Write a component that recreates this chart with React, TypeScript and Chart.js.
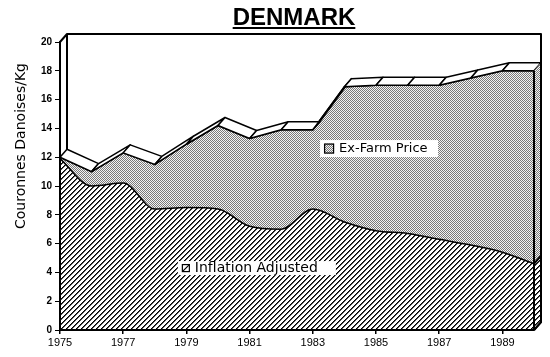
import { useEffect, useRef } from 'react';
import { Chart, registerables } from 'chart.js';

Chart.register(...registerables);

// ---- Data ----
const years = [1975, 1976, 1977, 1978, 1979, 1980, 1981, 1982, 1983, 1984, 1985, 1986, 1987, 1988, 1989, 1990];
const exFarmPrice = [12.0, 11.0, 12.3, 11.5, 12.9, 14.2, 13.3, 13.9, 13.9, 16.9, 17.0, 17.0, 17.0, 17.5, 18.0, 18.0];
const inflationAdjusted = [11.9, 10.0, 10.2, 8.4, 8.5, 8.4, 7.2, 7.0, 8.4, 7.5, 6.9, 6.7, 6.3, 5.9, 5.4, 4.6];
const xTickYears = [1975, 1977, 1979, 1981, 1983, 1985, 1987, 1989];
const seriesLabels = ['Inflation Adjusted', 'Ex-Farm Price'];
const titleText = 'DENMARK';
const yAxisTitle = 'Couronnes Danoises/Kg';

const DX = 7;
const DY = -8;

function makeStipple(): CanvasPattern | string {
  const c = document.createElement('canvas');
  c.width = 2; c.height = 2;
  const g = c.getContext('2d');
  if (!g) return '#c4c4c4';
  g.fillStyle = '#f4f4f4'; g.fillRect(0, 0, 2, 2);
  g.fillStyle = '#7a7a7a'; g.fillRect(0, 0, 1, 1); g.fillRect(1, 1, 1, 1);
  return g.createPattern(c, 'repeat') || '#c4c4c4';
}

function makeHatch(): CanvasPattern | string {
  const s = 5;
  const c = document.createElement('canvas');
  c.width = s; c.height = s;
  const g = c.getContext('2d');
  if (!g) return '#888';
  g.fillStyle = '#ffffff'; g.fillRect(0, 0, s, s);
  for (let x = 0; x < s; x++) {
    for (let y = 0; y < s; y++) {
      const k = (x + y) % s;
      if (k === s - 1) { g.fillStyle = '#000000'; g.fillRect(x, y, 1, 1); }
      else if (k === 0) { g.fillStyle = '#505050'; g.fillRect(x, y, 1, 1); }
    }
  }
  return g.createPattern(c, 'repeat') || '#888';
}

export default function App() {
  const ref = useRef<HTMLCanvasElement | null>(null);

  useEffect(() => {
    const canvas = ref.current;
    if (!canvas) return;
    const stipple = makeStipple();
    const hatch = makeHatch();

    const threeD = {
      id: 'threeD',
      beforeDatasetsDraw(chart: any) {
        const { ctx, chartArea: a } = chart;
        ctx.save();
        ctx.strokeStyle = '#000';
        ctx.lineWidth = 2;
        ctx.lineJoin = 'round';
        ctx.beginPath();
        ctx.moveTo(a.left, a.top);
        ctx.lineTo(a.left + DX, a.top + DY);
        ctx.lineTo(a.right + DX, a.top + DY);
        ctx.lineTo(a.right + DX, a.bottom + DY);
        ctx.lineTo(a.right, a.bottom);
        ctx.moveTo(a.left + DX, a.top + DY);
        ctx.lineTo(a.left + DX, a.bottom + DY);
        ctx.stroke();
        ctx.restore();
      },
      afterDatasetsDraw(chart: any) {
        const { ctx, chartArea: a } = chart;
        const ef = chart.getDatasetMeta(1).data.map((p: any) => ({ x: p.x, y: p.y }));
        const ia = chart.getDatasetMeta(0).data.map((p: any) => ({ x: p.x, y: p.y }));
        ctx.save();
        ctx.strokeStyle = '#000';
        ctx.lineWidth = 1.5;
        ctx.lineJoin = 'round';
        // top ribbon
        for (let i = 0; i < ef.length - 1; i++) {
          const p = ef[i], q = ef[i + 1];
          ctx.beginPath();
          ctx.moveTo(p.x, p.y);
          ctx.lineTo(q.x, q.y);
          ctx.lineTo(q.x + DX, q.y + DY);
          ctx.lineTo(p.x + DX, p.y + DY);
          ctx.closePath();
          ctx.fillStyle = '#fff';
          ctx.fill();
          ctx.stroke();
        }
        // right side face
        const le = ef[ef.length - 1];
        const li = ia[ia.length - 1];
        ctx.beginPath();
        ctx.moveTo(le.x, le.y);
        ctx.lineTo(le.x + DX, le.y + DY);
        ctx.lineTo(li.x + DX, li.y + DY);
        ctx.lineTo(li.x, li.y);
        ctx.closePath();
        ctx.fillStyle = stipple;
        ctx.fill();
        ctx.beginPath();
        ctx.moveTo(li.x, li.y);
        ctx.lineTo(li.x + DX, li.y + DY);
        ctx.lineTo(a.right + DX, a.bottom + DY);
        ctx.lineTo(a.right, a.bottom);
        ctx.closePath();
        ctx.fillStyle = hatch;
        ctx.fill();
        ctx.lineWidth = 2;
        ctx.beginPath();
        ctx.moveTo(le.x, le.y); ctx.lineTo(a.right, a.bottom);
        ctx.moveTo(le.x + DX, le.y + DY); ctx.lineTo(a.right + DX, a.bottom + DY);
        ctx.lineTo(a.right, a.bottom);
        ctx.moveTo(li.x, li.y); ctx.lineTo(li.x + DX, li.y + DY);
        ctx.stroke();
        // front axes lines
        ctx.lineWidth = 2;
        ctx.beginPath();
        ctx.moveTo(a.left, a.top);
        ctx.lineTo(a.left, a.bottom);
        ctx.lineTo(a.right, a.bottom);
        ctx.stroke();
        ctx.restore();
      },
      afterDraw(chart: any) {
        const { ctx, scales } = chart;
        const xs = scales.x, ys = scales.y;
        ctx.save();
        // title
        ctx.fillStyle = '#000';
        ctx.font = 'bold 24px "Liberation Sans", Arial, sans-serif';
        ctx.textAlign = 'center';
        ctx.textBaseline = 'alphabetic';
        const tx = 294;
        ctx.fillText(titleText, tx, 25);
        const tw = ctx.measureText(titleText).width;
        ctx.fillRect(tx - tw / 2, 27, tw, 2);
        // y axis title
        ctx.save();
        ctx.translate(21, 146);
        ctx.rotate(-Math.PI / 2);
        ctx.font = '14px "DejaVu Sans", sans-serif';
        ctx.textAlign = 'center';
        ctx.textBaseline = 'middle';
        ctx.fillText(yAxisTitle, 0, 0);
        ctx.restore();

        // in-plot labels
        const drawLabel = (text: string, vx: number, vy: number, fontPx: number, kind: 'stipple' | 'hatch', boxW: number, boxH: number) => {
          const x0 = xs.getPixelForValue(vx);
          const yc = ys.getPixelForValue(vy);
          ctx.fillStyle = '#fff';
          ctx.fillRect(x0, yc - boxH / 2, boxW, boxH);
          const isz = kind === 'stipple' ? 10 : 8;
          const ix = x0 + 4, iy = yc - isz / 2;
          if (kind === 'stipple') {
            ctx.fillStyle = stipple;
            ctx.fillRect(ix, iy, isz, isz);
          }
          ctx.strokeStyle = '#000';
          ctx.lineWidth = 1.2;
          ctx.strokeRect(ix + 0.5, iy + 0.5, isz - 1, isz - 1);
          if (kind === 'hatch') {
            ctx.beginPath();
            ctx.moveTo(ix + 1, iy + isz - 1);
            ctx.lineTo(ix + isz - 1, iy + 1);
            ctx.stroke();
          }
          ctx.fillStyle = '#000';
          ctx.font = `${fontPx}px "DejaVu Sans", sans-serif`;
          ctx.textAlign = 'left';
          ctx.textBaseline = 'middle';
          ctx.fillText(text, ix + isz + 5, yc + 0.5);
        };
        drawLabel(seriesLabels[1], 1983.23, 12.6, 13, 'stipple', 118, 17);
        drawLabel(seriesLabels[0], 1978.73, 4.3, 14, 'hatch', 158, 14);
        ctx.restore();
      },
    };

    const chart = new Chart(canvas, {
      type: 'line',
      data: {
        labels: years,
        datasets: [
          {
            label: seriesLabels[0],
            data: years.map((y, i) => ({ x: y, y: inflationAdjusted[i] })),
            borderColor: '#000',
            borderWidth: 1.5,
            backgroundColor: hatch as any,
            fill: 'origin',
            pointRadius: 0,
            cubicInterpolationMode: 'monotone',
          },
          {
            label: seriesLabels[1],
            data: years.map((y, i) => ({ x: y, y: exFarmPrice[i] })),
            borderColor: '#000',
            borderWidth: 1.5,
            backgroundColor: stipple as any,
            fill: '-1',
            pointRadius: 0,
            tension: 0,
          },
        ],
      },
      options: {
        responsive: false,
        animation: false,
        devicePixelRatio: 1,
        layout: { padding: { top: 42, right: 16, left: 0, bottom: 0 } },
        plugins: {
          legend: { display: false },
          title: { display: false },
          tooltip: { enabled: false },
        },
        scales: {
          x: {
            type: 'linear',
            min: 1975,
            max: 1990,
            afterBuildTicks: (s: any) => { s.ticks = xTickYears.map((v) => ({ value: v })); },
            afterFit: (s: any) => { s.height = 27; },
            ticks: {
              autoSkip: false,
              maxRotation: 0,
              padding: 2,
              color: '#000',
              font: { family: '"Liberation Sans", Arial, sans-serif', size: 11 },
              callback: (v: any) => String(v),
            },
            grid: { display: true, drawOnChartArea: false, drawTicks: true, tickLength: 4, color: '#000', lineWidth: 1.5 },
            border: { display: true, color: '#000', width: 2 },
          },
          y: {
            min: 0,
            max: 20,
            afterFit: (s: any) => { s.width = 60; },
            ticks: {
              stepSize: 1,
              padding: 3,
              color: '#000',
              font: { family: '"Liberation Sans", Arial, sans-serif', size: 10, weight: 'bold' },
              callback: (v: any) => (Number(v) % 2 === 0 ? String(v) : ''),
            },
            grid: { display: true, drawOnChartArea: false, drawTicks: true, tickLength: 5, color: '#000', lineWidth: 1 },
            border: { display: true, color: '#000', width: 2 },
          },
        },
      },
      plugins: [threeD],
    });

    return () => chart.destroy();
  }, []);

  return (
    <div style={{ position: 'fixed', left: 0, top: 0, width: 550, height: 357, background: '#fff' }}>
      <canvas ref={ref} width={550} height={357} style={{ display: 'block' }} />
    </div>
  );
}
